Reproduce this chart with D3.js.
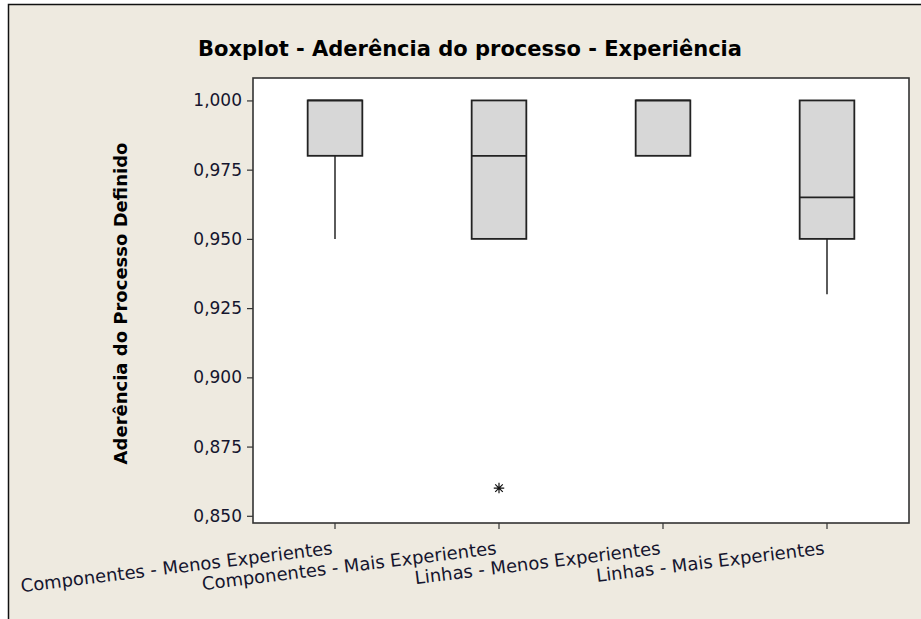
<!DOCTYPE html>
<html>
<head>
<meta charset="utf-8">
<script src="https://cdn.jsdelivr.net/npm/d3@7"></script>
<style>
  html, body { margin: 0; padding: 0; background: #ffffff; }
  svg { display: block; }
  text { font-family: "DejaVu Sans", Verdana, sans-serif; }
</style>
</head>
<body>
<svg id="chart" width="921" height="619"></svg>
<script>
// Groups and their five-number summaries
const categories = [
  "Componentes - Menos Experientes",
  "Componentes - Mais Experientes",
  "Linhas - Menos Experientes",
  "Linhas - Mais Experientes"
];
const whiskerLow  = [0.950, 0.950, 0.980, 0.930];
const q1          = [0.980, 0.950, 0.980, 0.950];
const medians     = [1.000, 0.980, 1.000, 0.965];
const q3          = [1.000, 1.000, 1.000, 1.000];
const whiskerHigh = [1.000, 1.000, 1.000, 1.000];
const outliers    = [[], [0.860], [], []];

const yTicks = [0.850, 0.875, 0.900, 0.925, 0.950, 0.975, 1.000];
const yDomain = [0.8474, 1.0081];

const titleText = "Boxplot - Aderência do processo - Experiência";
const yLabelText = "Aderência do Processo Definido";

const svg = d3.select("#chart");
const W = 921, H = 619;
const plot = { left: 253, top: 78, right: 909, bottom: 523 };

const ptBR = d3.formatLocale({ decimal: ",", thousands: ".", grouping: [3], currency: ["R$", ""] });
const fmt = ptBR.format(".3f");

// Outer panel
svg.append("rect").attr("x", 0).attr("y", 0).attr("width", W).attr("height", H).attr("fill", "#ffffff");
svg.append("rect")
  .attr("x", 8.5).attr("y", 4.5).attr("width", 940).attr("height", 640)
  .attr("fill", "#eeeae0").attr("stroke", "#111").attr("stroke-width", 1.5);

// Plot area
svg.append("rect")
  .attr("x", plot.left).attr("y", plot.top)
  .attr("width", plot.right - plot.left).attr("height", plot.bottom - plot.top)
  .attr("fill", "#ffffff");

const x = d3.scaleBand().domain(categories).range([plot.left, plot.right]).padding(0);
const y = d3.scaleLinear().domain(yDomain).range([plot.bottom, plot.top]);
const boxW = x.bandwidth() / 3;

// Axes
const yAxis = svg.append("g")
  .attr("transform", `translate(${plot.left},0)`)
  .call(d3.axisLeft(y).tickValues(yTicks).tickFormat(fmt).tickSize(6).tickPadding(5));
yAxis.select(".domain").remove();
yAxis.selectAll(".tick line").attr("stroke", "#333").attr("stroke-width", 1.2);
yAxis.selectAll(".tick text")
  .attr("font-size", 17).attr("fill", "#15152e")
  .style("font-family", "'DejaVu Sans', Verdana, sans-serif");

const xAxis = svg.append("g")
  .attr("transform", `translate(0,${plot.bottom})`)
  .call(d3.axisBottom(x).tickSize(6));
xAxis.select(".domain").remove();
xAxis.selectAll(".tick line").attr("stroke", "#333").attr("stroke-width", 1.2);
xAxis.selectAll(".tick text")
  .attr("x", 0).attr("y", 0).attr("dy", 0)
  .attr("text-anchor", "end")
  .attr("transform", "translate(-2,31) rotate(-7)")
  .attr("font-size", 18).attr("fill", "#15152e")
  .style("font-family", "'DejaVu Sans', Verdana, sans-serif");

// Plot frame
svg.append("rect")
  .attr("x", plot.left).attr("y", plot.top)
  .attr("width", plot.right - plot.left).attr("height", plot.bottom - plot.top)
  .attr("fill", "none").attr("stroke", "#333").attr("stroke-width", 1.6);

// Boxes
const rows = categories.map((c, i) => ({
  c, lo: whiskerLow[i], q1: q1[i], med: medians[i], q3: q3[i], hi: whiskerHigh[i], out: outliers[i]
}));

const g = svg.append("g");
const grp = g.selectAll("g.box").data(rows).join("g").attr("class", "box");
const cx = d => x(d.c) + x.bandwidth() / 2;

// whiskers
grp.append("line")
  .attr("x1", cx).attr("x2", cx)
  .attr("y1", d => y(d.lo)).attr("y2", d => y(d.q1))
  .attr("stroke", "#333").attr("stroke-width", 1.6);
grp.append("line")
  .attr("x1", cx).attr("x2", cx)
  .attr("y1", d => y(d.hi)).attr("y2", d => y(d.q3))
  .attr("stroke", "#333").attr("stroke-width", 1.6);
// box
grp.append("rect")
  .attr("x", d => cx(d) - boxW / 2).attr("width", boxW)
  .attr("y", d => y(d.q3)).attr("height", d => y(d.q1) - y(d.q3))
  .attr("fill", "#d7d7d7").attr("stroke", "#222").attr("stroke-width", 1.8);
// median
grp.append("line")
  .attr("x1", d => cx(d) - boxW / 2).attr("x2", d => cx(d) + boxW / 2)
  .attr("y1", d => y(d.med)).attr("y2", d => y(d.med))
  .attr("stroke", "#222").attr("stroke-width", 1.8);

// outliers as asterisks
const star = {
  draw(ctx, size) {
    const r = Math.sqrt(size) / 2;
    const d = r * 0.72;
    ctx.moveTo(0, -r); ctx.lineTo(0, r);
    ctx.moveTo(-r, 0); ctx.lineTo(r, 0);
    ctx.moveTo(-d, -d); ctx.lineTo(d, d);
    ctx.moveTo(-d, d); ctx.lineTo(d, -d);
  }
};
grp.each(function (d) {
  d3.select(this).selectAll("path.out").data(d.out).join("path")
    .attr("class", "out")
    .attr("transform", v => `translate(${cx(d)},${y(v)})`)
    .attr("d", d3.symbol(star, 110))
    .attr("fill", "none").attr("stroke", "#111").attr("stroke-width", 1.2);
});

// Title
svg.append("text")
  .attr("x", 470).attr("y", 56)
  .attr("text-anchor", "middle")
  .attr("font-size", 21).attr("font-weight", "bold").attr("fill", "#000")
  .text(titleText);

// Y axis label
svg.append("text")
  .attr("transform", `translate(127,${(plot.top + plot.bottom) / 2 + 3}) rotate(-90)`)
  .attr("text-anchor", "middle")
  .attr("font-size", 18).attr("font-weight", "bold").attr("fill", "#000")
  .text(yLabelText);
</script>
</body>
</html>
